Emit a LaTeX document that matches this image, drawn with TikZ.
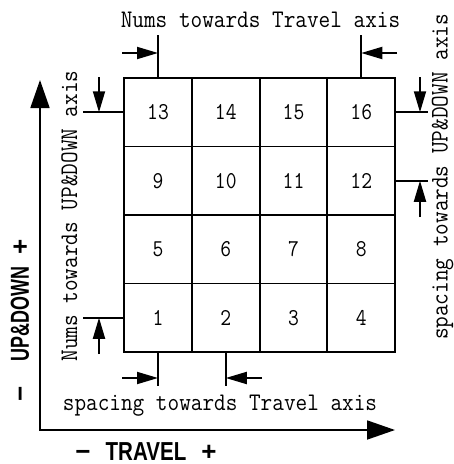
\documentclass[tikz,border=0pt]{standalone}
\usepackage{fontspec}
\usetikzlibrary{arrows.meta}
\newfontfamily\axisfont{Liberation Sans}
\newcommand\mt[1]{\scalebox{1}[1.12]{\fontsize{22.6}{24}\selectfont\ttfamily #1}}
\newcommand\numtxt[1]{\scalebox{1}[1.15]{\fontsize{21}{23}\selectfont\ttfamily #1}}
\begin{document}
\begin{tikzpicture}[x=1pt,y=-1pt,
  cell/.style={draw,line width=1.8pt,minimum width=67.75pt,minimum height=68.5pt,inner sep=0pt,outer sep=0pt},
  ext/.style={line width=1.8pt},
  dim/.style={line width=1.8pt,-{Triangle[length=21pt,width=12pt]}},
  axis/.style={line width=1.8pt,{Triangle[length=28pt,width=19pt]}-{Triangle[length=28pt,width=19pt]}},
  lbl/.style={inner sep=0pt,anchor=base}]
\useasboundingbox (0,0) rectangle (454,464);
% grid cells
\foreach \n/\x/\y in {13/158/112.25,14/225.75/112.25,15/293.5/112.25,16/361.25/112.25,
                      9/158/180.75,10/225.75/180.75,11/293.5/180.75,12/361.25/180.75,
                      5/158/249.25,6/225.75/249.25,7/293.5/249.25,8/361.25/249.25,
                      1/158/317.75,2/225.75/317.75,3/293.5/317.75,4/361.25/317.75}
  \node[cell] (c\n) at (\x,\y) {\numtxt{\n}};
% top dimension
\coordinate (t1) at (158,35);
\coordinate (t2) at (361.25,35);
\draw[ext] (c13.north) -- (t1);
\draw[ext] (c16.north) -- (t2);
\coordinate (ta1) at (122,53);
\coordinate (ta2) at (397,53);
\draw[dim] (ta1) -- (ta1 -| t1);
\draw[dim] (ta2) -- (ta2 -| t2);
% left dimension
\coordinate (l1) at (83,112.25);
\coordinate (l2) at (83,317.75);
\draw[ext] (c13.west) -- (l1);
\draw[ext] (c1.west) -- (l2);
\coordinate (la1) at (99,77);
\coordinate (la2) at (99,354);
\draw[dim] (la1) -- (la1 |- l1);
\draw[dim] (la2) -- (la2 |- l2);
% right dimension
\coordinate (r1) at (428,112.25);
\coordinate (r2) at (428,180.75);
\draw[ext] (c16.east) -- (r1);
\draw[ext] (c12.east) -- (r2);
\coordinate (ra1) at (420,77);
\coordinate (ra2) at (420,217);
\draw[dim] (ra1) -- (ra1 |- r1);
\draw[dim] (ra2) -- (ra2 |- r2);
% bottom dimension
\coordinate (b1) at (158,386);
\coordinate (b2) at (225.75,386);
\draw[ext] (c1.south) -- (b1);
\draw[ext] (c2.south) -- (b2);
\coordinate (ba1) at (122,378);
\coordinate (ba2) at (262,378);
\draw[dim] (ba1) -- (ba1 -| b1);
\draw[dim] (ba2) -- (ba2 -| b2);
% axes
\coordinate (o) at (40,430);
\coordinate (xe) at (395,430);
\coordinate (ye) at (40,80);
\draw[axis] (ye) -- (o) -- (xe);
% labels
\node[lbl] (ttop) at (260.5,27) {\mt{Nums towards Travel axis}};
\node[lbl] (tbot) at (220,410) {\mt{spacing towards Travel axis}};
\node[lbl,rotate=90] (tleft) at (77,216) {\mt{Nums towards UP\&DOWN axis}};
\node[lbl,rotate=90] (tright) at (447.5,177) {\mt{spacing towards UP\&DOWN axis}};
\node[inner sep=0pt] (xlab) at (146,452) {\axisfont\bfseries\fontsize{26}{28}\selectfont −\hspace{15pt}\scalebox{0.79}[1]{TRAVEL}\hspace{15pt}+};
\node[inner sep=0pt,rotate=90] (ylab) at (20,320.5) {\axisfont\bfseries\fontsize{26}{28}\selectfont −\hspace{25pt}\scalebox{0.69}[1]{UP\&DOWN}\hspace{12pt}+};
\end{tikzpicture}
\end{document}
